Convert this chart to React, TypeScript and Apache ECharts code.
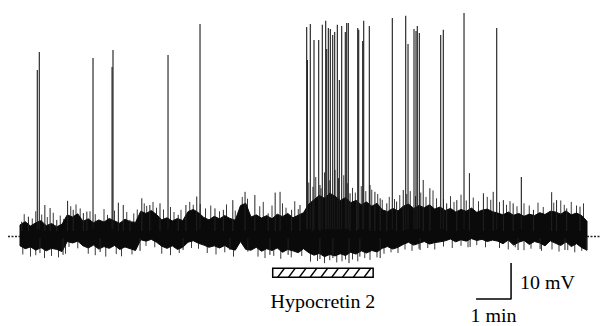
import React, { useEffect, useRef } from "react";
import * as echarts from "echarts";

// time in minutes (0 = start of trace), membrane potential in mV relative to rest
const BIN_STEP = 0.15;

// upper edge of the dense noise band, one value per bin
const bandTop = [
  3.2, 4.1, 2.9, 3.8, 4.4, 3.0, 3.6, 2.7, 3.4,
  6.0, 5.4, 6.3,
  4.2, 4.9, 3.8, 4.6, 4.0, 5.0, 4.3, 3.7, 4.8, 4.1, 3.9,
  7.0, 6.4, 7.2, 6.1,
  4.6, 5.2, 4.3, 5.0, 4.4,
  6.9, 7.5, 6.6,
  5.3, 4.6, 5.6, 4.9, 5.8, 5.0, 4.5,
  8.6, 9.2,
  5.4, 6.0, 5.1, 5.8, 4.9, 6.2, 5.5, 6.4, 5.2, 5.9, 6.6,
  9.0, 10.2, 11.4, 10.6, 12.0, 11.2, 10.0, 10.8,
  9.4, 10.0, 8.8, 9.6, 8.4, 9.2,
  7.4, 6.9, 7.8, 7.1,
  8.4, 9.0, 7.8, 8.6, 8.0, 8.8, 7.6, 8.2,
  7.2, 7.8, 6.8, 7.5, 7.0, 7.9, 6.7, 7.3, 7.6, 6.9,
  6.5, 6.0, 6.8, 5.9, 6.4, 5.6, 6.2, 5.8, 6.6, 6.1, 7.0,
  6.8, 6.2, 7.1, 6.0, 6.5, 5.8, 4.2,
];

// lower edge of the dense noise band
const bandBottom = [
  -2.6, -3.4, -2.9, -3.8, -3.1, -4.0, -3.3, -3.6, -4.2,
  -1.4, -1.8, -1.3,
  -2.6, -3.2, -2.4, -3.5, -2.8, -3.3, -2.5, -3.6, -2.9, -3.4, -3.9,
  -0.9, -1.3, -0.8, -1.6,
  -2.7, -3.3, -2.6, -3.6, -3.0,
  -1.6, -1.2, -1.9,
  -2.4, -3.0, -2.6, -3.2, -2.5, -3.4, -3.8,
  -1.4, -3.6,
  -3.8, -3.0, -4.1, -3.4, -3.9, -3.2, -4.4, -3.6, -4.0, -4.5, -3.4,
  -4.5, -5.2, -4.7, -5.6, -5.0, -5.4, -4.8, -5.3,
  -4.4, -4.9, -4.0, -4.6, -3.9, -4.3,
  -3.3, -2.8, -3.5, -3.0,
  -2.2, -1.6, -2.4, -1.9, -1.4, -2.1, -1.7, -1.5,
  -1.2, -0.7, -1.5, -0.9, -1.3, -0.6, -1.1, -0.8, -1.4, -1.0,
  -1.3, -2.0, -1.0, -2.4, -1.6, -1.1, -2.2, -1.4, -1.8, -2.6, -1.2,
  -1.9, -2.5, -1.5, -2.8, -2.0, -3.1, -3.8,
];

// taller thin noise excursions beyond the band: [time, peak mV]
const noisePeaks: [number, number][] = [
  [0.05, 4.1], [0.24, 5.5], [0.71, 8.75], [0.86, 7.9], [1.05, 4.6], [1.36, 9.9],
  [1.52, 7.4], [1.81, 6.5], [1.91, 6.9], [2.81, 9.4], [2.95, 8.75], [3.14, 4.6],
  [3.48, 10.6], [3.71, 8.75], [4.0, 9.2], [4.52, 6.0], [4.74, 8.75], [5.05, 11.1],
  [5.57, 7.8], [5.81, 7.4], [6.08, 10.1], [6.43, 12.4], [6.71, 11.5], [7.09, 6.4],
  [7.29, 12.2], [7.43, 12.4], [7.76, 7.4], [8.0, 8.75], [8.37, 13.8], [8.57, 14.3],
  [9.43, 12.0], [9.62, 10.1], [10.0, 14.3], [10.14, 12.4], [10.29, 10.6], [10.48, 9.2],
  [10.76, 9.7], [10.95, 12.9], [11.52, 15.7], [11.71, 13.4], [12.19, 9.2], [12.48, 10.1],
  [12.84, 17.6], [13.24, 12.0], [13.52, 12.4], [13.81, 10.1], [14.09, 9.2], [14.67, 7.4],
  [15.19, 12.3], [15.33, 10.1], [15.62, 7.8], [16.0, 8.3],
  [1.23, -5.1], [4.66, -3.75], [6.51, -4.2], [7.66, -5.1], [8.94, -6.0], [9.4, -7.4],
  [9.71, -5.6], [14.23, -3.75], [16.19, -3.9], [0.57, -4.6], [2.29, -4.3], [3.43, -4.0],
  [6.0, -3.75], [7.14, -5.1], [8.57, -6.25], [10.29, -6.0], [11.43, -3.75], [12.86, -2.9],
  [14.86, -3.5], [15.57, -3.75],
];

// small fringe excursions along the band edges: [time, peak mV]
const fringePeaks: [number, number][] = [
  [0.12, 6.2], [0.35, 5.0], [0.45, 7.0], [0.62, 6.1], [0.78, 5.4], [0.95, 6.6], [1.15, 5.8], [1.25, 4.9],
  [0.08, -5.0], [0.3, -5.6], [0.45, -5.2], [0.7, -6.0], [0.9, -5.4], [1.1, -5.8], [1.3, -4.8],
  [1.45, 8.4], [1.6, 8.9], [1.72, 7.8], [1.4, -2.9], [1.65, -3.3],
  [2.0, 7.0], [2.15, 6.2], [2.4, 7.6], [2.5, 6.0], [2.7, 7.2], [3.05, 6.8], [3.25, 6.4], [3.35, 7.5],
  [1.95, -4.8], [2.15, -5.2], [2.45, -5.6], [2.75, -4.9], [2.9, -5.5], [3.2, -5.0],
  [3.55, 9.2], [3.62, 8.5], [3.8, 9.6], [3.9, 8.0], [3.6, -2.6], [3.85, -3.0],
  [4.1, 7.5], [4.3, 8.2], [4.4, 6.8], [4.6, 7.4], [4.05, -4.8], [4.3, -5.2], [4.55, -4.6],
  [4.85, 9.6], [4.95, 8.8], [5.15, 9.0], [4.9, -3.2], [5.1, -3.4],
  [5.3, 7.8], [5.45, 8.6], [5.7, 7.0], [5.9, 8.9], [6.15, 7.2], [5.35, -4.6], [5.6, -5.0], [5.85, -4.4], [6.1, -5.6],
  [6.35, 11.0], [6.5, 10.5], [6.45, -3.0],
  [6.85, 8.4], [6.95, 9.6], [7.2, 8.6], [7.5, 9.2], [7.6, 8.0], [7.85, 9.8], [7.95, 7.6],
  [6.8, -5.6], [7.0, -6.0], [7.25, -5.4], [7.45, -6.2], [7.75, -5.8], [8.05, -5.4],
  [8.25, 15.0], [8.45, 16.5], [8.6, 13.4], [8.7, 17.8], [8.85, 15.6], [9.0, 18.5], [9.1, 16.2], [9.25, 17.0], [9.35, 14.8],
  [8.3, -7.0], [8.5, -6.8], [8.7, -7.4], [8.85, -6.6], [9.05, -7.2], [9.2, -6.9], [9.3, -6.4],
  [9.5, 13.5], [9.58, 12.2], [9.75, 14.0], [9.88, 12.6], [10.05, 13.0], [10.22, 11.8],
  [9.5, -6.4], [9.65, -6.9], [9.85, -6.0], [10.0, -6.5], [10.2, -5.8],
  [10.35, 10.2], [10.55, 11.0], [10.7, 10.4], [10.85, 11.5], [10.4, -4.8], [10.6, -4.4], [10.8, -4.6],
  [11.05, 11.8], [11.15, 12.6], [11.3, 11.2], [11.45, 12.2], [11.6, 11.0], [11.8, 12.8], [11.9, 10.6],
  [11.0, -3.6], [11.2, -4.0], [11.4, -3.4], [11.65, -3.2], [11.85, -3.6],
  [12.1, 10.4], [12.3, 11.2], [12.4, 9.6], [12.6, 11.6], [12.75, 10.0], [12.95, 10.8], [13.1, 9.8], [13.35, 11.0], [13.45, 10.2],
  [12.1, -2.8], [12.35, -3.2], [12.6, -2.6], [12.8, -3.0], [13.05, -2.4], [13.3, -3.0],
  [13.7, 9.6], [13.9, 8.8], [14.0, 9.8], [14.2, 8.4], [14.4, 9.2], [14.55, 8.6], [14.8, 9.4], [14.95, 8.2],
  [13.7, -3.2], [13.95, -3.6], [14.15, -3.0], [14.4, -3.8], [14.6, -3.4], [14.9, -4.0],
  [15.25, 9.4], [15.45, 10.0], [15.55, 8.8], [15.75, 9.6], [15.9, 8.6], [16.1, 9.2],
  [15.2, -3.6], [15.4, -4.2], [15.65, -3.8], [15.85, -4.4], [16.05, -4.0],
];

// action potentials: [time, peak mV]
const spikes: [number, number][] = [
  [0.494, 46.25], [0.551, 51.25], [2.086, 49.6], [2.63, 47.1], [2.657, 51.8], [4.229, 50.4],
  [5.143, 59.0], [8.191, 58.2], [8.21, 49.0], [8.294, 59.0], [8.4, 54.6], [8.534, 54.6],
  [8.637, 58.8], [8.734, 59.9], [8.763, 52.1], [8.809, 57.9], [8.866, 57.6], [8.934, 56.0],
  [8.991, 56.8], [9.066, 58.8], [9.123, 43.5], [9.191, 58.5], [9.294, 56.8], [9.334, 59.3],
  [9.38, 59.3], [9.649, 57.9], [9.677, 57.4], [9.791, 54.3], [9.82, 59.9], [9.98, 58.5],
  [10.637, 60.7], [11.02, 61.3], [11.086, 53.5], [11.257, 57.6], [11.314, 57.1], [11.351, 58.5],
  [11.409, 56.5], [12.02, 56.0], [12.094, 57.4], [12.686, 62.1], [13.62, 57.9], [14.323, 16.5],
];

const drugName = "Hypocretin 2";
const drugOn: [number, number] = [7.22, 10.09];
const drugBarMV: [number, number] = [-8.83, -11.33];

const scaleBarTime: [number, number] = [13.03, 14.03];
const scaleBarMV: [number, number] = [-7.36, -17.36];
const scaleLabels = ["10 mV", "1 min"];

const baselineLeft: [number, number] = [-0.343, 0];
const baselineRight: [number, number] = [16.2, 16.571];

const X_MIN = -0.343;
const X_MAX = 16.571;
const Y_MIN = -24.87;
const Y_MAX = 65.69;

const INK = "#000";
const TEXT_SCALE_X = 1.08;
const textStyle = {
  fill: INK,
  fontFamily: "Liberation Serif",
  fontSize: 18.5,
};

function excursionRenderer(color: string) {
  return (_params: any, api: any) => {
    const t = api.value(0);
    const v = api.value(1);
    const p0 = api.coord([t, v > 0 ? 1.5 : -0.5]);
    const p1 = api.coord([t, v]);
    return {
      type: "line",
      shape: { x1: p0[0], y1: p0[1], x2: p1[0], y2: p1[1] },
      style: { stroke: color, lineWidth: 1 },
    };
  };
}

export default function App() {
  const ref = useRef<HTMLDivElement>(null);

  useEffect(() => {
    if (!ref.current) return;
    const chart = echarts.init(ref.current, undefined, { renderer: "svg" });

    const option: any = {
      animation: false,
      backgroundColor: "#fff",
      grid: { left: 8, right: 2, top: 0, bottom: 0 },
      xAxis: { type: "value", min: X_MIN, max: X_MAX, show: false },
      yAxis: { type: "value", min: Y_MIN, max: Y_MAX, show: false },
      series: [
        {
          type: "line",
          data: [[baselineLeft[0], 0], [baselineLeft[1], 0]],
          symbol: "none",
          lineStyle: { color: "#222", width: 1.5, type: [2, 1.5] },
          silent: true,
        },
        {
          type: "line",
          data: [[baselineRight[0], 0], [baselineRight[1], 0]],
          symbol: "none",
          lineStyle: { color: "#222", width: 1.5, type: [2, 1.5] },
          silent: true,
        },
        {
          type: "custom",
          clip: false,
          silent: true,
          data: fringePeaks,
          renderItem: excursionRenderer("#3a3a3a"),
        },
        {
          type: "custom",
          clip: false,
          silent: true,
          data: [[0, 0]],
          renderItem: (_params: any, api: any) => {
            const pts: number[][] = [];
            for (let i = 0; i < bandTop.length; i++) pts.push(api.coord([i * BIN_STEP, bandTop[i]]));
            for (let i = bandBottom.length - 1; i >= 0; i--) pts.push(api.coord([i * BIN_STEP, bandBottom[i]]));
            return {
              type: "polygon",
              shape: { points: pts },
              style: { fill: "#0a0a0a", stroke: "#0a0a0a", lineWidth: 1 },
            };
          },
        },
        {
          type: "custom",
          clip: false,
          silent: true,
          data: noisePeaks,
          renderItem: excursionRenderer("#222"),
        },
        {
          type: "custom",
          clip: false,
          silent: true,
          data: spikes,
          renderItem: (_params: any, api: any) => {
            const t = api.value(0);
            const v = api.value(1);
            const p0 = api.coord([t, 2]);
            const p1 = api.coord([t, v]);
            return {
              type: "line",
              shape: { x1: p0[0], y1: p0[1], x2: p1[0], y2: p1[1] },
              style: { stroke: "#1a1a1a", lineWidth: 1.1 },
            };
          },
        },
        {
          type: "custom",
          clip: false,
          silent: true,
          data: [[drugOn[0], drugOn[1]]],
          renderItem: (_params: any, api: any) => {
            const a = api.coord([drugOn[0], drugBarMV[0]]);
            const b = api.coord([drugOn[1], drugBarMV[1]]);
            const h = b[1] - a[1];
            const children: any[] = [
              {
                type: "rect",
                shape: { x: a[0], y: a[1], width: b[0] - a[0], height: h },
                style: { fill: "#fff", stroke: INK, lineWidth: 1.5 },
              },
            ];
            const slant = h * 0.75;
            for (let x = a[0] + 5; x + 1 < b[0]; x += 10.8) {
              const x2 = Math.min(x + slant, b[0]);
              const y2 = b[1] - ((x2 - x) / slant) * h;
              children.push({
                type: "line",
                shape: { x1: x, y1: b[1], x2, y2 },
                style: { stroke: INK, lineWidth: 1.3 },
              });
            }
            children.push({
              type: "text",
              x: (a[0] + b[0]) / 2,
              y: b[1] + 24.5,
              scaleX: TEXT_SCALE_X,
              style: { ...textStyle, text: drugName, align: "center", verticalAlign: "middle" },
            });
            return { type: "group", children };
          },
        },
        {
          type: "line",
          data: [
            [scaleBarTime[0], scaleBarMV[1]],
            [scaleBarTime[1], scaleBarMV[1]],
            [scaleBarTime[1], scaleBarMV[0]],
          ],
          symbol: "none",
          lineStyle: { color: INK, width: 1.5 },
          silent: true,
        },
        {
          type: "custom",
          clip: false,
          silent: true,
          data: [[scaleBarTime[1], scaleBarMV[1]]],
          renderItem: (_params: any, api: any) => {
            const corner = api.coord([scaleBarTime[1], scaleBarMV[1]]);
            const top = api.coord([scaleBarTime[1], scaleBarMV[0]]);
            const left = api.coord([scaleBarTime[0], scaleBarMV[1]]);
            return {
              type: "group",
              children: [
                {
                  type: "text",
                  x: corner[0] + 9,
                  y: (corner[1] + top[1]) / 2 + 1.5,
                  scaleX: TEXT_SCALE_X,
                  style: { ...textStyle, text: scaleLabels[0], align: "left", verticalAlign: "middle" },
                },
                {
                  type: "text",
                  x: (corner[0] + left[0]) / 2,
                  y: corner[1] + 17,
                  scaleX: TEXT_SCALE_X,
                  style: { ...textStyle, text: scaleLabels[1], align: "center", verticalAlign: "middle" },
                },
              ],
            };
          },
        },
      ],
    };

    chart.setOption(option);
    return () => chart.dispose();
  }, []);

  return (
    <div
      ref={ref}
      style={{ position: "fixed", left: 0, top: 0, width: 602, height: 326, background: "#fff" }}
    />
  );
}
